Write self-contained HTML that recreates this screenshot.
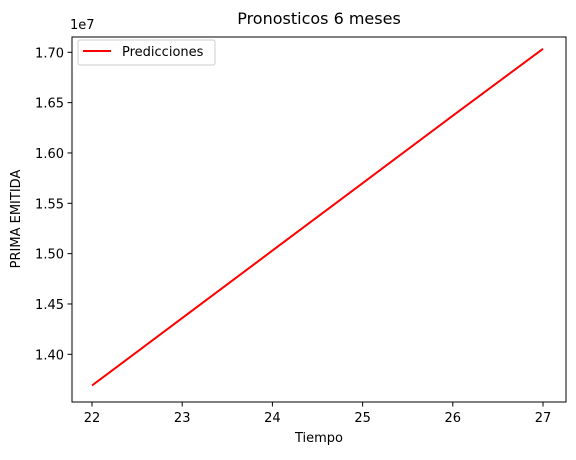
<!DOCTYPE html>
<html><head><meta charset="utf-8"><style>
body{margin:0;background:#fff}
svg text{font-family:"DejaVu Sans","Liberation Sans",sans-serif;fill:#000}
</style></head><body>
<svg id="c" width="576" height="455" xmlns="http://www.w3.org/2000/svg"></svg>
<script>
const xValues=[22,23,24,25,26,27];
const yValues=[13.69,14.36,15.03,15.70,16.37,17.035];
const xTicks=[22,23,24,25,26,27];
const yTicks=[14.0,14.5,15.0,15.5,16.0,16.5,17.0];
const yTickLabels=["1.40","1.45","1.50","1.55","1.60","1.65","1.70"];
const L=72,R=566,T=37,B=402;
const sx=v=>92+(v-22)*(543-92)/5;
const sy=v=>354.3-(v-14.0)*(354.3-52.3)/3.0;
const svg=document.getElementById('c');
const NS='http://www.w3.org/2000/svg';
function mk(tag,attrs,txt){const e=document.createElementNS(NS,tag);for(const k in attrs)e.setAttribute(k,attrs[k]);if(txt!==undefined)e.textContent=txt;svg.appendChild(e);return e;}
let e;
e=mk('rect',{x:L,y:T,width:R-L,height:B-T,fill:'#fff',stroke:'#000','stroke-width':1});


xTicks.forEach(v=>{
 e=mk('line',{x1:sx(v),x2:sx(v),y1:B,y2:B+4.5,stroke:'#000'});
 
 
 e=mk('text',{x:sx(v),y:B+20,'text-anchor':'middle','font-size':13},String(v));
 
 
});
yTicks.forEach((v,i)=>{
 e=mk('line',{x1:L-4.5,x2:L,y1:sy(v),y2:sy(v),stroke:'#000'});
 
 
 e=mk('text',{x:L-8,y:sy(v)+5,'text-anchor':'end','font-size':13},yTickLabels[i]);
 
 
});
e=mk('text',{x:L-2,y:T-8,'font-size':13},'1e7');


e=mk('polyline',{points:xValues.map((x,i)=>sx(x)+','+sy(yValues[i])).join(' '),fill:'none',stroke:'#ff0000','stroke-width':2});


e=mk('text',{x:319,y:24,'text-anchor':'middle','font-size':16},'Pronosticos 6 meses');


e=mk('text',{x:319,y:442,'text-anchor':'middle','font-size':13},'Tiempo');


e=mk('text',{x:0,y:0,'text-anchor':'middle','font-size':13,transform:'translate(20,219) rotate(-90)'},'PRIMA EMITIDA');


e=mk('rect',{x:78,y:40,width:137,height:25,rx:2,fill:'#fff',stroke:'#ccc','stroke-width':1});


e=mk('line',{x1:83,x2:111,y1:51,y2:51,stroke:'#ff0000','stroke-width':2});


e=mk('text',{x:122,y:56,'font-size':13},'Predicciones');


</script>
</body></html>
